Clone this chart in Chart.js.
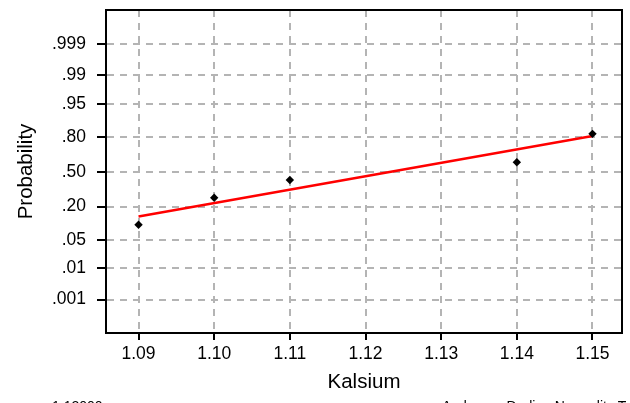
<!DOCTYPE html>
<html>
<head>
<meta charset="utf-8">
<script src="https://cdn.jsdelivr.net/npm/chart.js@4.4.1/dist/chart.umd.min.js"></script>
<style>
    html, body { margin: 0; padding: 0; background: #fff; overflow: hidden; }
    #wrap { width: 630px; height: 403px; }
</style>
</head>
<body>
<div id="wrap"><canvas id="probPlot" width="630" height="403"></canvas></div>
<script>
// data
const kalsium = [1.09, 1.10, 1.11, 1.14, 1.15];
const probability = [0.10, 0.265, 0.42, 0.59, 0.82];

// fitted normal line (end points)
const fitX = [1.09, 1.15];
const fitP = [0.139, 0.806];

// axis ticks
const xTicks = [1.09, 1.10, 1.11, 1.12, 1.13, 1.14, 1.15];
const xTickLabels = ["1.09", "1.10", "1.11", "1.12", "1.13", "1.14", "1.15"];
const probTicks = [0.001, 0.01, 0.05, 0.20, 0.50, 0.80, 0.95, 0.99, 0.999];
const probTickLabels = [".001", ".01", ".05", ".20", ".50", ".80", ".95", ".99", ".999"];

// footer text (cut off at the bottom of the picture)
const footerLeft = "1.12000";
const footerRight = "Anderson-Darling Normality Test";

const FONT = '"Liberation Sans", Arial, sans-serif';

// inverse normal cdf, used as the probability scale
function probit(p) {
    const a = [-3.969683028665376e+01, 2.209460984245205e+02, -2.759285104469687e+02, 1.383577518672690e+02, -3.066479806614716e+01, 2.506628277459239e+00];
    const b = [-5.447609879822406e+01, 1.615858368580409e+02, -1.556989798598866e+02, 6.680131188771972e+01, -1.328068155288572e+01];
    const c = [-7.784894002430293e-03, -3.223964580411365e-01, -2.400758277161838e+00, -2.549732539343734e+00, 4.374664141464968e+00, 2.938163982698783e+00];
    const d = [7.784695709041462e-03, 3.224671290700398e-01, 2.445134137142996e+00, 3.754408661907416e+00];
    const pl = 0.02425;
    let q, r;
    if (p < pl) {
        q = Math.sqrt(-2 * Math.log(p));
        return (((((c[0]*q + c[1])*q + c[2])*q + c[3])*q + c[4])*q + c[5]) / ((((d[0]*q + d[1])*q + d[2])*q + d[3])*q + 1);
    }
    if (p > 1 - pl) {
        q = Math.sqrt(-2 * Math.log(1 - p));
        return -(((((c[0]*q + c[1])*q + c[2])*q + c[3])*q + c[4])*q + c[5]) / ((((d[0]*q + d[1])*q + d[2])*q + d[3])*q + 1);
    }
    q = p - 0.5;
    r = q * q;
    return (((((a[0]*r + a[1])*r + a[2])*r + a[3])*r + a[4])*r + a[5])*q / (((((b[0]*r + b[1])*r + b[2])*r + b[3])*r + b[4])*r + 1);
}

// box round the plot + footer text
const frameAndFooter = {
    id: "frameAndFooter",
    beforeDatasetsDraw(chart) {
        const { ctx, chartArea: a } = chart;
        ctx.save();
        ctx.strokeStyle = "#000";
        ctx.lineWidth = 2;
        ctx.strokeRect(a.left, a.top, a.right - a.left, a.bottom - a.top);
        ctx.restore();
    },
    afterDraw(chart) {
        const ctx = chart.ctx;
        ctx.save();
        ctx.fillStyle = "#000";
        ctx.font = "14px " + FONT;
        ctx.textBaseline = "alphabetic";
        ctx.fillText(footerLeft, 52, 411);
        ctx.fillText(footerRight, 442, 411);
        ctx.restore();
    }
};

// no extra room for end labels, the ticks are not at the ends
function noEndPadding(s) {
    s.paddingTop = 0;
    s.paddingBottom = 0;
    s.paddingLeft = 0;
    s.paddingRight = 0;
}

const ctx = document.getElementById("probPlot").getContext("2d");

new Chart(ctx, {
    type: "scatter",
    data: {
        datasets: [
            {
                label: "Kalsium",
                data: kalsium.map((x, i) => ({ x: x, y: probit(probability[i]) })),
                pointStyle: "rectRot",
                pointRadius: 4.2,
                backgroundColor: "#000",
                borderColor: "#000",
                borderWidth: 0
            },
            {
                label: "Fit",
                data: fitX.map((x, i) => ({ x: x, y: probit(fitP[i]) })),
                showLine: true,
                pointRadius: 0,
                borderColor: "#ff0000",
                borderWidth: 2.5
            }
        ]
    },
    options: {
        responsive: false,
        animation: false,
        devicePixelRatio: 1,
        layout: { padding: { left: 0, right: 8, top: 10, bottom: 0 } },
        plugins: {
            legend: { display: false },
            tooltip: { enabled: false }
        },
        scales: {
            x: {
                type: "linear",
                min: 1.0857,
                max: 1.1539,
                afterFit: (s) => { s.height = 70; noEndPadding(s); },
                afterBuildTicks: (s) => { s.ticks = xTicks.map(v => ({ value: v })); },
                ticks: {
                    callback: (v, i) => xTickLabels[i],
                    color: "#000",
                    padding: 4,
                    font: { family: FONT, size: 17.5 }
                },
                grid: {
                    color: "#b4b4b4",
                    lineWidth: 2,
                    tickColor: "#000",
                    tickWidth: 2,
                    tickLength: 7,
                    tickBorderDash: []
                },
                border: { display: true, color: "#000", width: 2, dash: [7, 6] },
                title: {
                    display: true,
                    text: "Kalsium",
                    color: "#000",
                    padding: { top: 0, bottom: 8 },
                    font: { family: FONT, size: 20.5 }
                }
            },
            y: {
                type: "linear",
                min: -3.9,
                max: 3.91,
                afterFit: (s) => { s.width = 106; noEndPadding(s); },
                afterBuildTicks: (s) => { s.ticks = probTicks.map(p => ({ value: probit(p) })); },
                ticks: {
                    callback: (v, i) => probTickLabels[i],
                    color: "#000",
                    padding: 11,
                    font: { family: FONT, size: 17.5 }
                },
                grid: {
                    color: "#b4b4b4",
                    lineWidth: 2,
                    tickColor: "#000",
                    tickWidth: 2,
                    tickLength: 9,
                    tickBorderDash: []
                },
                border: { display: true, color: "#000", width: 2, dash: [7, 6] },
                title: {
                    display: true,
                    text: "Probability",
                    color: "#000",
                    padding: { top: 14, bottom: 0 },
                    font: { family: FONT, size: 20.5 }
                }
            }
        }
    },
    plugins: [frameAndFooter]
});
</script>
</body>
</html>
